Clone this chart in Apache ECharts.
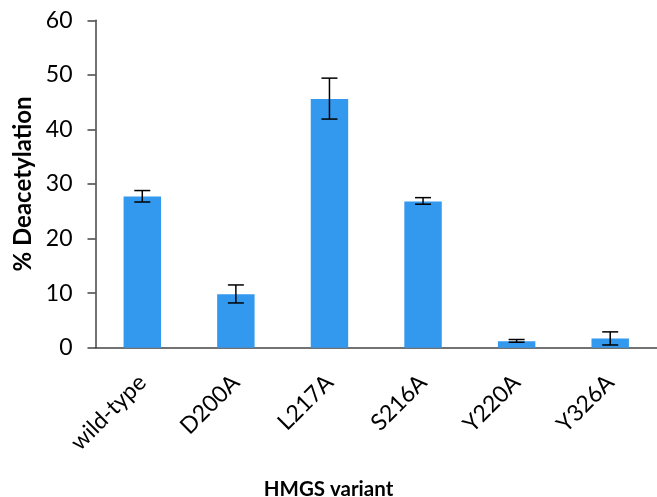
<!DOCTYPE html>
<html>
<head>
<meta charset="utf-8">
<script src="https://cdn.jsdelivr.net/npm/echarts@6/dist/echarts.min.js"></script>
<style>
  html, body { margin: 0; padding: 0; background: #fff; }
  #chart { width: 657px; height: 497px; }
</style>
</head>
<body>
<div id="chart"></div>
<script>
// values
const categories = ['wild-type', 'D200A', 'L217A', 'S216A', 'Y220A', 'Y326A'];
const deacetylation = [27.7, 9.8, 45.6, 26.8, 1.2, 1.7];
const errLow = [26.7, 8.2, 41.9, 26.3, 1.0, 0.5];
const errHigh = [28.8, 11.5, 49.4, 27.5, 1.5, 2.9];
const yTicks = [0, 10, 20, 30, 40, 50, 60];

const font = 'Lato, "Open Sans", sans-serif';
const chart = echarts.init(document.getElementById('chart'));

const errData = categories.map((c, i) => [i, errLow[i], errHigh[i]]);

chart.setOption({
    animation: false,
    title: {
        text: 'HMGS variant',
        left: 'center',
        top: 474,
        textStyle: { fontFamily: font, fontWeight: 'bold', fontSize: 20.5, color: '#000' },
    },
    grid: { left: 95.5, top: 20.3, bottom: 149.3, right: -6 },
    xAxis: {
        type: 'category',
        data: categories,
        axisLine: { lineStyle: { color: '#444', width: 1.5 } },
        axisTick: { length: 8, lineStyle: { color: '#444', width: 1.5 } },
        axisLabel: { rotate: 45, margin: 31, fontFamily: font, fontSize: 23, color: '#000' },
    },
    yAxis: {
        type: 'value',
        min: yTicks[0],
        max: yTicks[yTicks.length - 1],
        interval: 10,
        name: '% Deacetylation',
        nameLocation: 'middle',
        nameGap: 58,
        nameTextStyle: { fontFamily: font, fontWeight: 'bold', fontSize: 24, color: '#000' },
        axisLine: { show: true, lineStyle: { color: '#444', width: 1.5 } },
        axisTick: { show: true, length: 8, lineStyle: { color: '#444', width: 1.5 } },
        axisLabel: { margin: 23, fontFamily: font, fontSize: 23, color: '#000' },
        splitLine: { show: false },
    },
    series: [
        {
            type: 'bar',
            data: deacetylation,
            barWidth: '40%',
            itemStyle: { color: '#3399ee' },
        },
        {
            type: 'custom',
            data: errData,
            z: 10,
            renderItem: function (params, api) {
                const x = api.value(0);
                const lo = api.coord([x, api.value(1)]);
                const hi = api.coord([x, api.value(2)]);
                const half = 8;
                const style = { stroke: '#000', lineWidth: 1.5 };
                return {
                    type: 'group',
                    children: [
                        { type: 'line', shape: { x1: lo[0], y1: lo[1], x2: hi[0], y2: hi[1] }, style },
                        { type: 'line', shape: { x1: lo[0] - half, y1: lo[1], x2: lo[0] + half, y2: lo[1] }, style },
                        { type: 'line', shape: { x1: hi[0] - half, y1: hi[1], x2: hi[0] + half, y2: hi[1] }, style },
                    ],
                };
            },
        },
    ],
});
</script>
</body>
</html>
